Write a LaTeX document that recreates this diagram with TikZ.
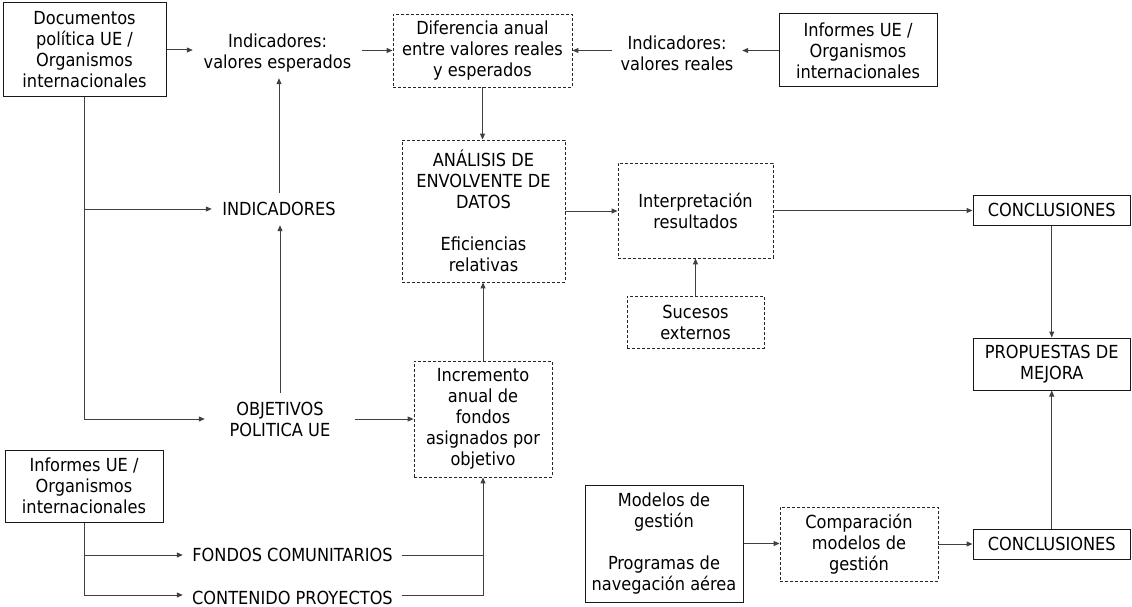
\documentclass[tikz,border=0pt]{standalone}
\usepackage{fontspec}
\setmainfont{DejaVu Sans Condensed}
\usetikzlibrary{arrows.meta}

\tikzset{
  every node/.style={font=\fontsize{18}{21}\selectfont, align=center, inner sep=0pt},
  solidbox/.style={draw=black!90, line width=1pt},
  dashbox/.style={draw=black!85, line width=0.9pt, dash pattern=on 3pt off 2pt},
  plain/.style={},
  conn/.style={draw=black!75, line width=1pt},
  arr/.style={conn, -{Triangle[length=6pt,width=5pt]}}
}

\begin{document}
\begin{tikzpicture}[x=1pt, y=-1pt]
\useasboundingbox (0,0) rectangle (1132,607);
\clip (0,0) rectangle (1132,607);

% --- top row ---
\node[solidbox, minimum width=163pt, minimum height=94pt] (docs) at (84.5,50)
  {Documentos\\política UE /\\Organismos\\internacionales};
\node[plain, minimum width=169pt, minimum height=50pt] (iesp) at (277.5,53)
  {Indicadores:\\valores esperados};
\node[dashbox, minimum width=179pt, minimum height=73pt] (diff) at (482.5,50.5)
  {Diferencia anual\\entre valores reales\\y esperados};
\node[plain, minimum width=130pt, minimum height=50pt] (ireal) at (677,53)
  {Indicadores:\\valores reales};
\node[solidbox, minimum width=158pt, minimum height=73pt] (inf1) at (858,50.5)
  {Informes UE /\\Organismos\\internacionales};

% --- middle ---
\node[plain, minimum width=134pt, minimum height=32pt] (ind) at (279,209)
  {INDICADORES};
\node[dashbox, minimum width=163pt, minimum height=142pt] (anal) at (483.5,211)
  {ANÁLISIS DE\\ENVOLVENTE DE\\DATOS\\[21pt]Eficiencias\\relativas};
\node[dashbox, minimum width=155pt, minimum height=95pt] (interp) at (695.5,210.5)
  {Interpretación\\resultados};
\node[dashbox, minimum width=137pt, minimum height=52pt] (suc) at (695.5,322)
  {Sucesos\\externos};
\node[solidbox, minimum width=157.5pt, minimum height=30pt] (conc1) at (1051.75,210)
  {CONCLUSIONES};
\node[solidbox, minimum width=157.5pt, minimum height=52pt] (prop) at (1051.75,364)
  {PROPUESTAS DE\\MEJORA};

\node[plain, minimum width=150pt, minimum height=52pt] (obj) at (280,419)
  {OBJETIVOS\\POLITICA UE};
\node[dashbox, minimum width=138pt, minimum height=116pt] (incr) at (483,419)
  {Incremento\\anual de\\fondos\\asignados por\\objetivo};

% --- bottom ---
\node[solidbox, minimum width=158pt, minimum height=72pt] (inf2) at (84,486)
  {Informes UE /\\Organismos\\internacionales};
\node[plain, minimum width=219pt, minimum height=20pt] (fondos) at (292.5,555)
  {FONDOS COMUNITARIOS};
\node[plain, minimum width=219pt, minimum height=18pt] (cont) at (292.5,598)
  {CONTENIDO PROYECTOS};
\coordinate (contin) at ([yshift=3pt]cont.west);
\coordinate (contout) at ([yshift=3pt]cont.east);

\node[solidbox, minimum width=158pt, minimum height=117pt] (mod) at (664,543.5)
  {Modelos de\\gestión\\[21pt]Programas de\\navegación aérea};
\node[dashbox, minimum width=158pt, minimum height=74pt] (comp) at (859,544)
  {Comparación\\modelos de\\gestión};
\node[solidbox, minimum width=157.5pt, minimum height=30pt] (conc2) at (1051.75,544)
  {CONCLUSIONES};

% --- connectors ---
\draw[arr] (docs.east) -- (docs.east -| iesp.west);
\draw[arr] (iesp.east |- diff.west) -- (diff.west);
\draw[arr] (ireal.west |- diff.east) -- (diff.east);
\draw[arr] (inf1.west) -- (inf1.west -| ireal.east);
\draw[arr] (diff.south) -- (diff.south |- anal.north);

\draw[arr] (docs.south) |- (obj.west);
\draw[arr] (docs.south |- ind.west) -- (ind.west);
\draw[arr] (ind.north) -- (ind.north |- iesp.south);
\draw[arr] (obj.north) -- (obj.north |- ind.south);
\draw[arr] (obj.east) -- (incr.west);
\draw[arr] (incr.north) -- (incr.north |- anal.south);

\draw[arr] (anal.east) -- (anal.east -| interp.west);
\draw[arr] (suc.north) -- (interp.south);
\draw[arr] (interp.east) -- (interp.east -| conc1.west);
\draw[arr] (conc1.south) -- (prop.north);
\draw[arr] (conc2.north) -- (prop.south);

\draw[arr] (inf2.south) |- (contin);
\draw[arr] (inf2.south |- fondos.west) -- (fondos.west);
\draw[conn] (fondos.east) -- (fondos.east -| incr.south);
\draw[arr] (contout) -| (incr.south);

\draw[arr] (mod.east) -- (mod.east -| comp.west);
\draw[arr] (comp.east) -- (conc2.west);
\end{tikzpicture}
\end{document}
